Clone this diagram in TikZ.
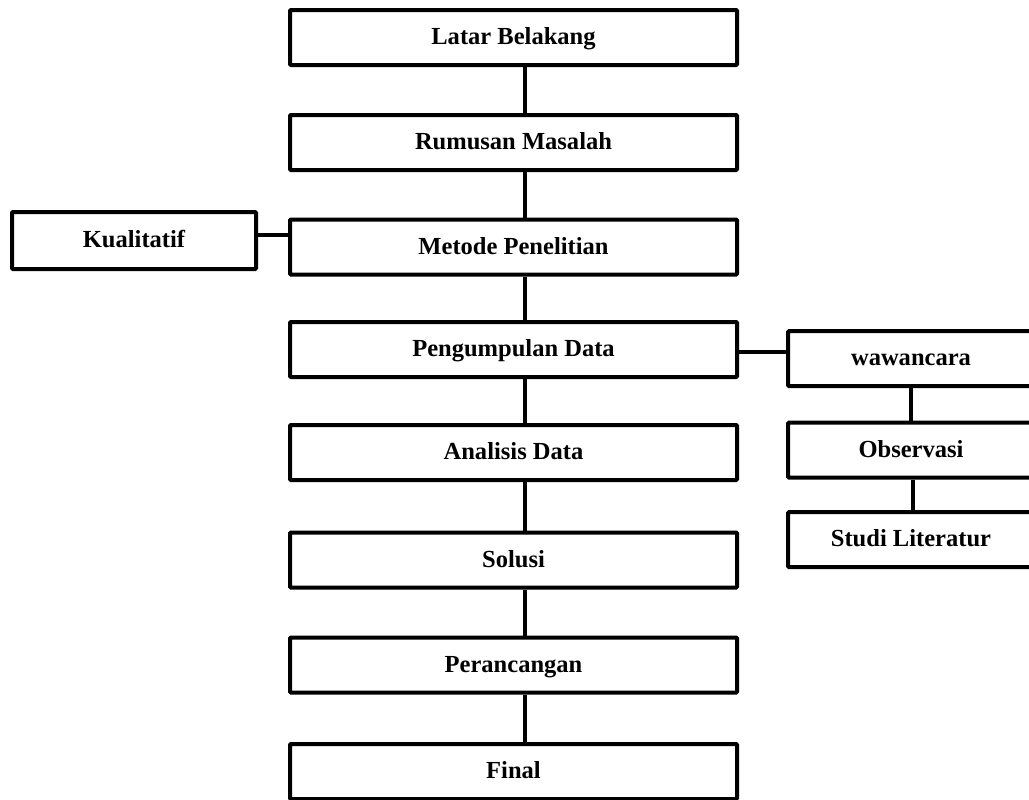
\documentclass[tikz,border=0pt]{standalone}
\usepackage{fontspec}
\setmainfont{Liberation Serif}
\begin{document}
\begin{tikzpicture}[x=0.75pt,y=-0.75pt,
  box/.style={draw=black,line width=3pt,rounded corners=0.8pt,fill=white,inner sep=0pt,
    minimum height=41.25pt,text height=14pt,text depth=2.8pt,
    font=\fontsize{18.4}{22}\selectfont\bfseries},
  mainbox/.style={box,minimum width=335.25pt},
  sidebox/.style={box,minimum width=184.5pt},
  link/.style={line width=3pt}]
\useasboundingbox (0,0) rectangle (1029,800);
\fill[white] (0,0) rectangle (1029,800);
\node[mainbox] (lb) at (513.5,37.5) {Latar Belakang};
\node[mainbox] (rm) at (513.5,142.5) {Rumusan Masalah};
\node[mainbox] (mp) at (513.5,247) {Metode Penelitian};
\node[mainbox] (pd) at (513.5,349.5) {Pengumpulan Data};
\node[mainbox] (ad) at (513.5,452.5) {Analisis Data};
\node[mainbox] (so) at (513.5,560) {Solusi};
\node[mainbox] (pr) at (513.5,665) {Perancangan};
\node[mainbox] (fi) at (513.5,771.5) {Final};
\node[box,minimum width=183pt,minimum height=42.75pt] (ku) at (134,240.5) {Kualitatif};
\node[sidebox] (ww) at (911,358.5) {wawancara};
\node[sidebox] (ob) at (911,450) {Observasi};
\node[sidebox] (sl) at (911,539.5) {Studi Literatur};
\foreach \a/\b in {lb/rm,rm/mp,mp/pd,pd/ad,ad/so,so/pr,pr/fi}
  \draw[link] ([xshift=8.5pt]\a.south) -- ([xshift=8.5pt]\b.north);
\draw[link] ([yshift=4pt]ku.east) -- ([yshift=4pt]ku.east -| mp.west);
\draw[link] ([yshift=-2pt]pd.east) -- ([yshift=-2pt]pd.east -| ww.west);
\draw[link] (ww.south) -- (ob.north);
\draw[link] ([xshift=1.5pt]ob.south) -- ([xshift=1.5pt]sl.north);
\end{tikzpicture}
\end{document}
